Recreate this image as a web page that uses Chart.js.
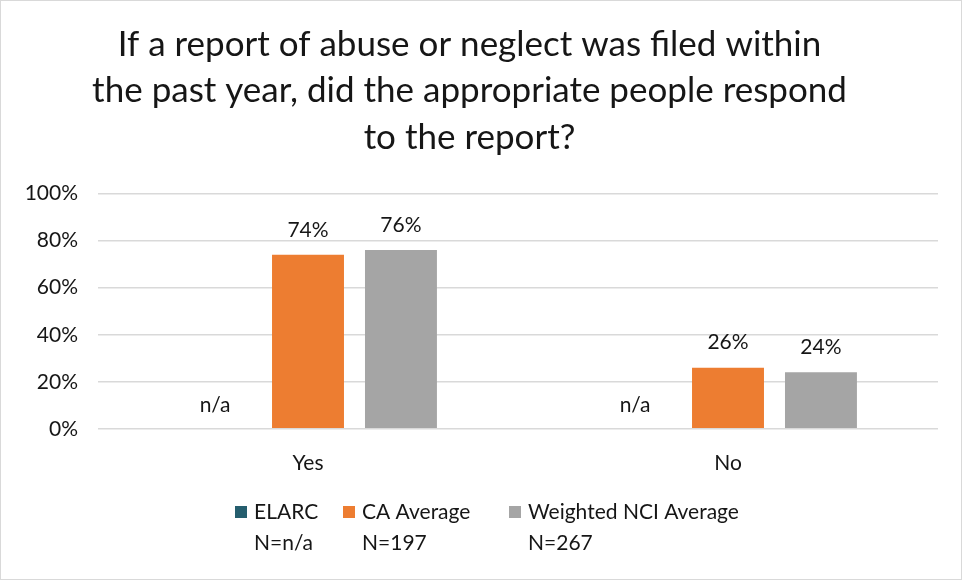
<!DOCTYPE html>
<html>
<head>
<meta charset="utf-8">
<script src="https://cdn.jsdelivr.net/npm/chart.js@4/dist/chart.umd.min.js"></script>
<style>
  html,body{margin:0;padding:0;background:#fff}
  #wrap{position:relative;width:960px;height:578px;border:1px solid #d9d9d9}
</style>
</head>
<body>
<div id="wrap"><canvas id="c" width="960" height="578"></canvas></div>
<script>
/* ---- data ---- */
const categories = ['Yes', 'No'];
const seriesNames = ['ELARC', 'CA Average', 'Weighted NCI Average'];
const seriesN = ['N=n/a', 'N=197', 'N=267'];
const elarc = [null, null];
const caAverage = [0.74, 0.26];
const nciAverage = [0.76, 0.24];
const colors = ['#255e6e', '#ed7d31', '#a5a5a5'];
const yTicks = [0, 0.2, 0.4, 0.6, 0.8, 1];
const titleLines = ['If a report of abuse or neglect was filed within',
                    'the past year, did the appropriate people respond',
                    'to the report?'];

const FONT = "Lato, 'Open Sans', sans-serif";
const TXT = '#161616';

/* value labels above bars, "n/a" for missing */
const valueLabels = {
  id: 'valueLabels',
  afterDatasetsDraw(chart){
    const ctx = chart.ctx, y = chart.scales.y;
    ctx.save();
    ctx.font = '21px ' + FONT;
    ctx.fillStyle = TXT;
    ctx.textAlign = 'center';
    ctx.textBaseline = 'middle';
    chart.data.datasets.forEach((ds, di) => {
      const meta = chart.getDatasetMeta(di);
      meta.data.forEach((bar, i) => {
        const v = ds.data[i];
        if (v == null) ctx.fillText('n/a', bar.x, y.getPixelForValue(0) - 24);
        else ctx.fillText(Math.round(v * 100) + '%', bar.x, y.getPixelForValue(v) - 25);
      });
    });
    ctx.restore();
  }
};

/* two-line legend at the bottom */
const bottomLegend = {
  id: 'bottomLegend',
  afterDraw(chart){
    const ctx = chart.ctx;
    const xs = [234, 342, 508];
    ctx.save();
    ctx.font = '21px ' + FONT;
    ctx.textBaseline = 'middle';
    seriesNames.forEach((name, i) => {
      ctx.fillStyle = colors[i];
      ctx.fillRect(xs[i], 505, 12, 12);
      ctx.fillStyle = TXT;
      ctx.fillText(name, xs[i] + 19, 511);
      ctx.fillText(seriesN[i], xs[i] + 19, 542);
    });
    ctx.restore();
  }
};

new Chart(document.getElementById('c'), {
  type: 'bar',
  data: {
    labels: categories,
    datasets: [
      { label: seriesNames[0], data: elarc, backgroundColor: colors[0] },
      { label: seriesNames[1], data: caAverage, backgroundColor: colors[1] },
      { label: seriesNames[2], data: nciAverage, backgroundColor: colors[2] }
    ]
  },
  options: {
    responsive: false,
    animation: false,
    categoryPercentage: 0.664,
    barPercentage: 0.774,
    layout: { padding: { left: 0, right: 23, top: 0, bottom: 89 } },
    plugins: {
      legend: { display: false },
      tooltip: { enabled: false },
      title: {
        display: true,
        text: titleLines,
        color: TXT,
        font: { family: FONT, size: 35, weight: 'normal', lineHeight: 1.33 },
        padding: { top: 20, bottom: 33 }
      }
    },
    scales: {
      x: {
        grid: { display: false },
        border: { display: false },
        ticks: { color: TXT, font: { family: FONT, size: 21 }, padding: 14 }
      },
      y: {
        min: 0, max: 1,
        afterFit(s){ s.width = 97; },
        afterBuildTicks(s){ s.ticks = yTicks.map(v => ({ value: v })); },
        grid: { color: '#d9d9d9', lineWidth: 1.5, drawTicks: false },
        border: { display: false },
        ticks: { color: TXT, font: { family: FONT, size: 21 }, padding: 20,
                 callback: v => Math.round(v * 100) + '%' }
      }
    }
  },
  plugins: [valueLabels, bottomLegend]
});
</script>
</body>
</html>
